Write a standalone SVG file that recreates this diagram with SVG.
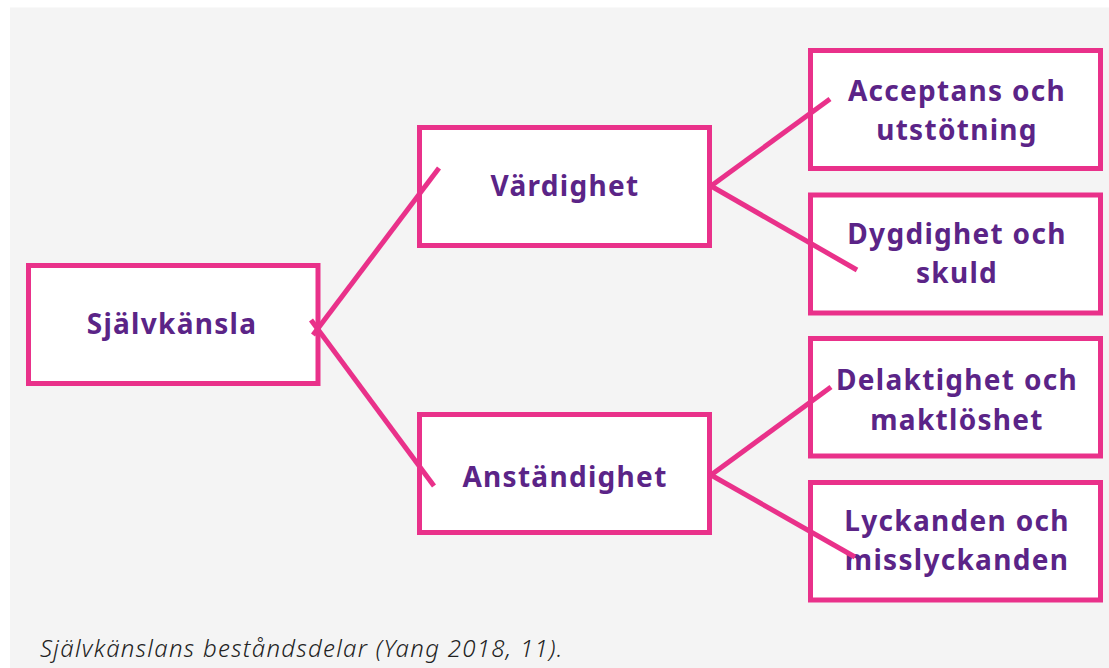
<svg xmlns="http://www.w3.org/2000/svg" width="1109" height="668" viewBox="0 0 1109 668">
<style>
.box{fill:#ffffff;stroke:#e9318a;stroke-width:5}
.lbl{font-family:"Noto Sans","Liberation Sans",sans-serif;font-weight:700;font-size:28px;letter-spacing:1.3px;fill:#5b2487;text-anchor:middle}
.con{stroke:#e9318a;stroke-width:5;fill:none;stroke-linecap:butt}
.cap{font-family:"Noto Sans","Liberation Sans",sans-serif;font-style:italic;font-weight:300;font-size:24px;letter-spacing:1.3px;fill:#222222}
</style>
<rect x="0" y="0" width="1109" height="668" fill="#ffffff"/>
<rect x="10" y="7.5" width="1099" height="660.5" fill="#f4f4f4"/>
<g id="n-sjalvkansla">
<rect class="box" x="28.5" y="265.5" width="289.5" height="118"/>
<text class="lbl" x="172" y="334">Självkänsla</text>
</g>
<g id="n-vardighet">
<rect class="box" x="419.5" y="127.5" width="290" height="118"/>
<text class="lbl" x="565" y="196">Värdighet</text>
</g>
<g id="n-anstandighet">
<rect class="box" x="419.5" y="414.5" width="290" height="118"/>
<text class="lbl" x="565" y="487">Anständighet</text>
</g>
<g id="n-acceptans">
<rect class="box" x="810.5" y="50.5" width="290" height="118"/>
<text class="lbl" x="957" y="101">Acceptans och</text>
<text class="lbl" x="957" y="140">utstötning</text>
</g>
<g id="n-dygdighet">
<rect class="box" x="810.5" y="195" width="290" height="118"/>
<text class="lbl" x="957" y="244">Dygdighet och</text>
<text class="lbl" x="957" y="283">skuld</text>
</g>
<g id="n-delaktighet">
<rect class="box" x="810.5" y="338.5" width="290" height="117.5"/>
<text class="lbl" x="957" y="390">Delaktighet och</text>
<text class="lbl" x="957" y="430">maktlöshet</text>
</g>
<g id="n-lyckanden">
<rect class="box" x="810.5" y="482.5" width="290" height="117.5"/>
<text class="lbl" x="957" y="531">Lyckanden och</text>
<text class="lbl" x="957" y="570">misslyckanden</text>
</g>
<g id="connectors">
<line class="con" x1="313" y1="335" x2="439" y2="168"/>
<line class="con" x1="311" y1="320" x2="434" y2="486"/>
<line class="con" x1="711" y1="186" x2="830" y2="99"/>
<line class="con" x1="711" y1="186" x2="857" y2="270"/>
<line class="con" x1="711" y1="475" x2="831" y2="387"/>
<line class="con" x1="711" y1="475" x2="855" y2="557"/>
</g>
<text class="cap" x="40" y="657">Självkänslans beståndsdelar (Yang 2018, 11).</text>
</svg>
